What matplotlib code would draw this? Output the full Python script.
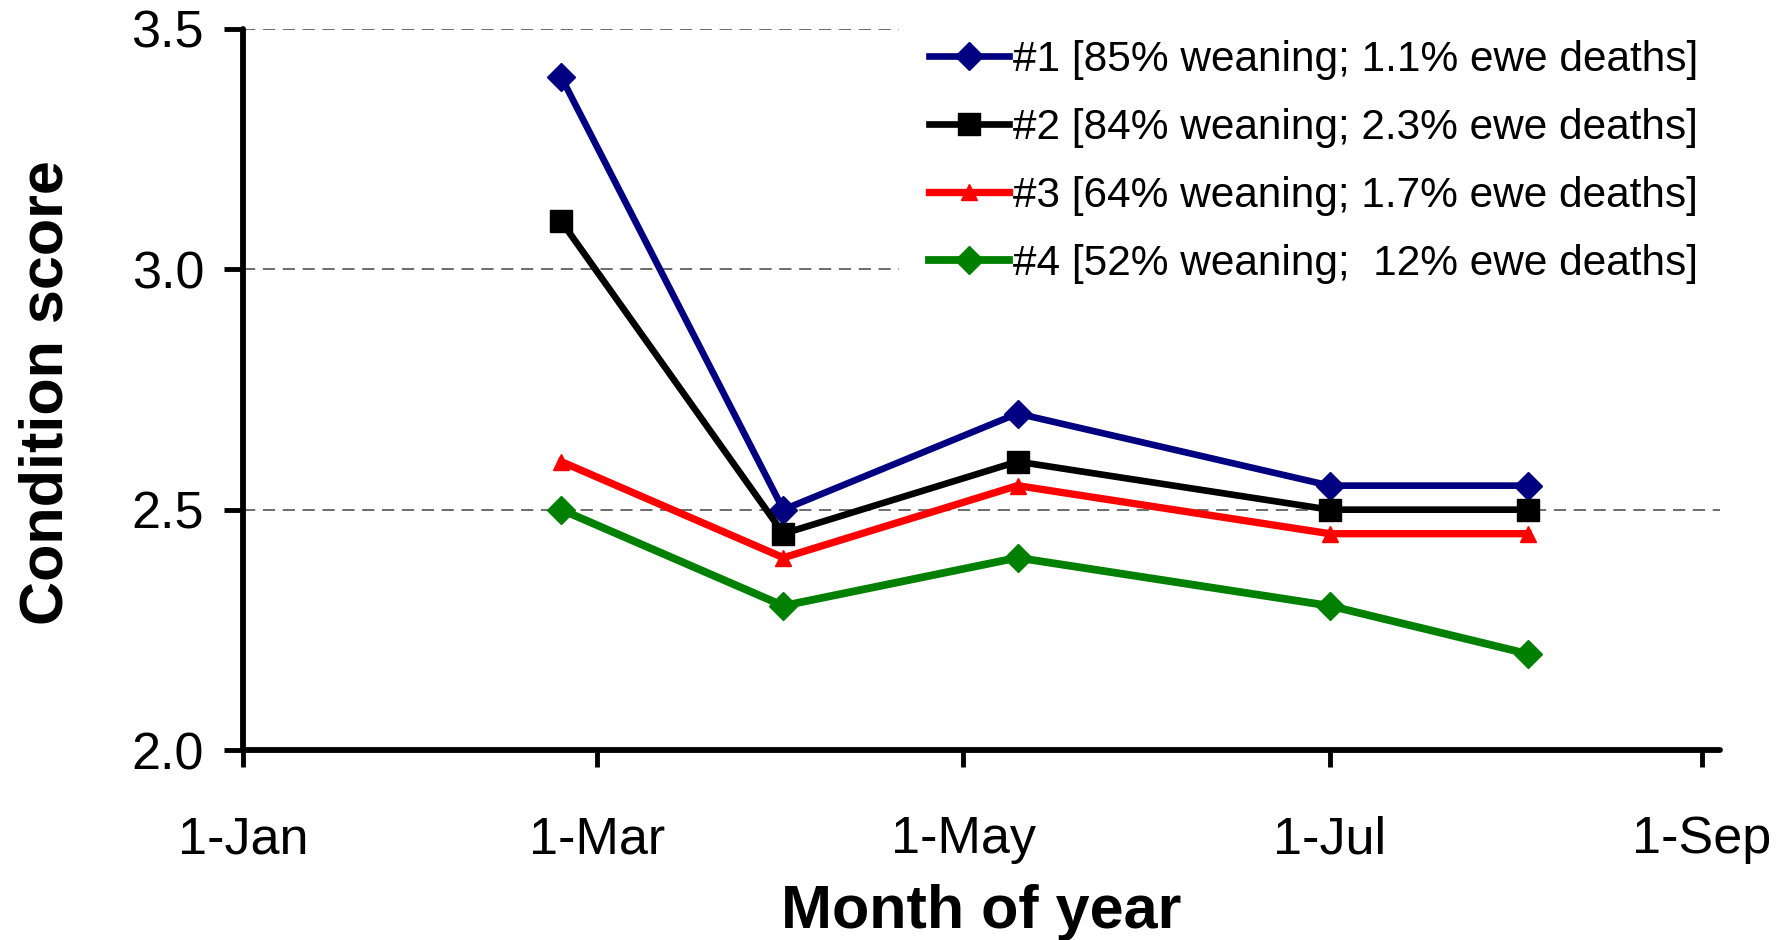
#!/usr/bin/env python3
# -*- coding: utf-8 -*-

import datetime as dt
import matplotlib
matplotlib.use('Agg')
import matplotlib.pyplot as plt
import matplotlib.dates as mdates
from matplotlib.ticker import FuncFormatter

# sampling dates
dates = [dt.date(2009, 2, 23), dt.date(2009, 4, 1), dt.date(2009, 5, 10),
         dt.date(2009, 7, 1), dt.date(2009, 8, 3)]

flock1 = [3.4, 2.5, 2.7, 2.55, 2.55]
flock2 = [3.1, 2.45, 2.6, 2.5, 2.5]
flock3 = [2.6, 2.4, 2.55, 2.45, 2.45]
flock4 = [2.5, 2.3, 2.4, 2.3, 2.2]

labels = ['#1 [85% weaning; 1.1% ewe deaths]',
          '#2 [84% weaning; 2.3% ewe deaths]',
          '#3 [64% weaning; 1.7% ewe deaths]',
          '#4 [52% weaning;  12% ewe deaths]']

yticks = [2.0, 2.5, 3.0, 3.5]

plt.rcParams['font.family'] = ['Liberation Sans', 'DejaVu Sans']


def day_month(x, pos):
	d = mdates.num2date(x)
	return "{}-{}".format(d.day, d.strftime('%b'))


def main():
	fig = plt.figure(figsize=(17.87, 9.40), dpi=100)
	ax = fig.add_axes([243/1787, 1-750/940, (1720-243)/1787, (750-29)/940])

	ax.plot(dates, flock1, color='#000080', marker='D', ms=14, lw=4.8,
			label=labels[0], clip_on=False, zorder=5)
	ax.plot(dates, flock2, color='black', marker='s', ms=16, lw=4.8,
			label=labels[1], clip_on=False, zorder=5)
	ax.plot(dates, flock3, color='#ff0000', marker='^', ms=12, lw=5.3,
			label=labels[2], clip_on=False, zorder=5)
	ax.plot(dates, flock4, color='#008000', marker='D', ms=14, lw=5.6,
			label=labels[3], clip_on=False, zorder=5)

	ax.set_xlim(dt.date(2009, 1, 1), dt.date(2009, 9, 4))
	ax.set_ylim(2.0, 3.5)
	ax.set_yticks(yticks)
	ax.yaxis.set_major_formatter(FuncFormatter(lambda v, p: "{:.1f}".format(v)))
	ax.xaxis.set_major_locator(mdates.MonthLocator(bymonth=[1, 3, 5, 7, 9]))
	ax.xaxis.set_major_formatter(FuncFormatter(day_month))

	ax.grid(axis='y', color='#444444', linestyle=(0, (8, 5)), linewidth=1.1)
	ax.set_axisbelow(True)

	for side in ['top', 'right']:
		ax.spines[side].set_visible(False)
	for side in ['left', 'bottom']:
		ax.spines[side].set_linewidth(4.2)
		ax.spines[side].set_capstyle('round')

	ax.tick_params(axis='y', direction='out', length=14, width=3.5, pad=14,
				   labelsize=37.5)
	ax.tick_params(axis='x', direction='out', length=12, width=3.5, pad=35,
				   labelsize=37.5)

	ax.set_xlabel('Month of year', fontsize=44, fontweight='bold', labelpad=14)
	fig.text(47/1787, 1-393/940, 'Condition score', rotation=90,
			 fontsize=44, fontweight='bold', ha='center', va='center')

	leg = ax.legend(loc='upper left', bbox_to_anchor=(899/1787, 1-10/940),
					bbox_transform=fig.transFigure, fontsize=30.5,
					handlelength=1.9, handletextpad=0.1, labelspacing=0.66,
					borderpad=0.7, borderaxespad=0, frameon=True, fancybox=False)
	leg.get_frame().set_facecolor('white')
	leg.get_frame().set_edgecolor('none')
	leg.get_frame().set_alpha(1)

	fig.savefig('out.png', dpi=100)


if __name__ == '__main__':
	main()
